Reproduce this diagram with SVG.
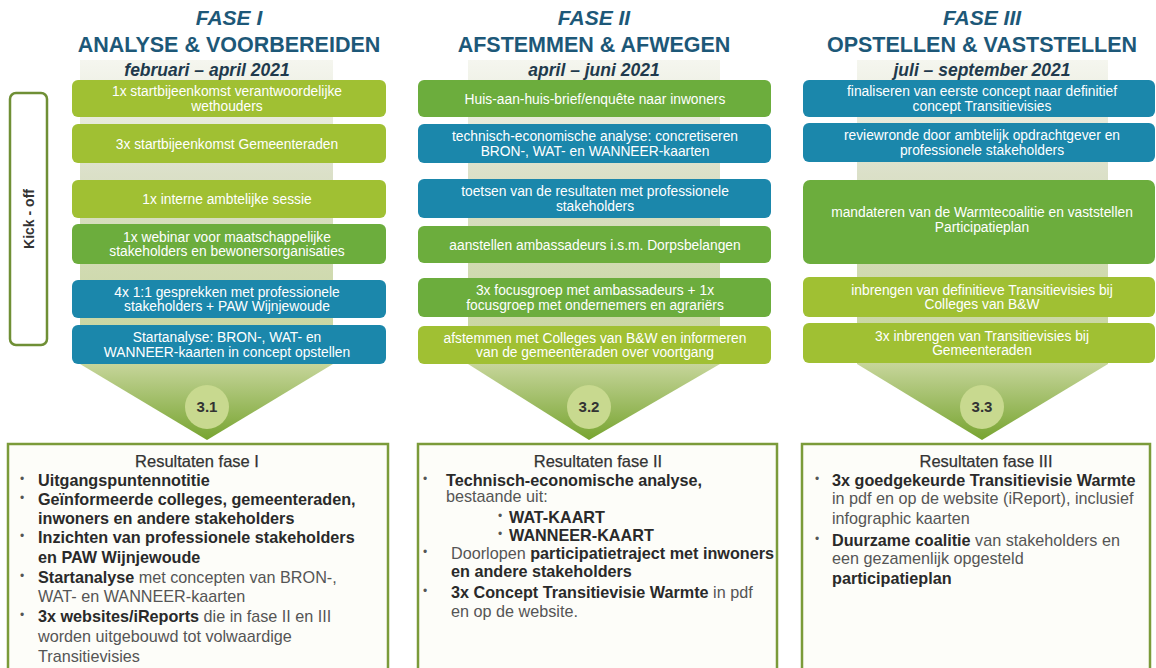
<svg xmlns="http://www.w3.org/2000/svg" width="1156" height="668" viewBox="0 0 1156 668">
<style>
.h1{font-family:"Liberation Sans",Arial,sans-serif;font-weight:bold;font-style:italic;font-size:21px;fill:#1d5878;text-anchor:middle}
.h2{font-family:"Liberation Sans",Arial,sans-serif;font-weight:bold;font-size:21.5px;fill:#1d5878;text-anchor:middle}
.dt{font-family:"Liberation Sans",Arial,sans-serif;font-weight:bold;font-style:italic;font-size:17.5px;fill:#1f3a4c;text-anchor:middle}
.bt{font-family:"Liberation Sans",Arial,sans-serif;font-size:13.8px;fill:#ffffff;text-anchor:middle}
.lime{fill:#a0c033}
.green{fill:#6cad3d}
.blue{fill:#1b87ab}
.circ{fill:#c8d98f}
.num{font-family:"Liberation Sans",Arial,sans-serif;font-weight:bold;font-size:15px;fill:#333;text-anchor:middle}
.res{fill:#fdfdf9;stroke:#7b9b3a;stroke-width:2.5}
.rt{font-family:"Liberation Sans",Arial,sans-serif;font-size:16.5px;fill:#333;text-anchor:middle;stroke:#333;stroke-width:0.25}
.r{font-family:"Liberation Sans",Arial,sans-serif;font-size:16.2px;fill:#555}
.bu{font-family:"Liberation Sans",Arial,sans-serif;font-size:12px;fill:#555}
.b{font-weight:bold;fill:#2a2a2a}
.ko{fill:#ffffff;stroke:#6f8f35;stroke-width:2.5}
.kt{font-family:"Liberation Sans",Arial,sans-serif;font-weight:bold;font-size:14px;fill:#333;text-anchor:middle}
</style>
<defs>
<linearGradient id="fun" gradientUnits="userSpaceOnUse" x1="0" y1="60" x2="0" y2="440">
<stop offset="0" stop-color="#f5f6ef"/>
<stop offset="0.3" stop-color="#dbe0c8"/>
<stop offset="0.8" stop-color="#c6d59a"/>
<stop offset="1" stop-color="#77a430"/>
</linearGradient>
</defs>
<rect width="1156" height="668" fill="#ffffff"/>

<g id="connectors">
<path id="funnel1" d="M80,60 H333 V364 L207,440 L80,364 Z" fill="url(#fun)"/>
<path id="funnel2" d="M468,60 H720 V364 L589,440 L468,364 Z" fill="url(#fun)"/>
<path id="funnel3" d="M857,60 H1108 V364 L982,440 L857,364 Z" fill="url(#fun)"/>
</g>

<g id="header1">
<text class="h1" x="229" y="25">FASE I</text>
<text class="h2" x="229" y="52">ANALYSE &amp; VOORBEREIDEN</text>
<text class="dt" x="207" y="76">februari – april 2021</text>
</g>
<g id="header2">
<text class="h1" x="594" y="25">FASE II</text>
<text class="h2" x="594" y="52">AFSTEMMEN &amp; AFWEGEN</text>
<text class="dt" x="594" y="76">april – juni 2021</text>
</g>
<g id="header3">
<text class="h1" x="982" y="25">FASE III</text>
<text class="h2" x="982" y="52">OPSTELLEN &amp; VASTSTELLEN</text>
<text class="dt" x="982" y="76">juli – september 2021</text>
</g>

<g id="kickoff">
<rect class="ko" x="10" y="93" width="37" height="252" rx="6"/>
<text class="kt" transform="translate(34,219) rotate(-90)">Kick - off</text>
</g>

<g id="phase1">
<g id="p1b1"><rect class="lime" x="72" y="80" width="314" height="37" rx="6"/><text class="bt" x="227" y="96">1x startbijeenkomst verantwoordelijke</text><text class="bt" x="227" y="111">wethouders</text></g>
<g id="p1b2"><rect class="lime" x="72" y="124" width="314" height="39" rx="6"/><text class="bt" x="227" y="148.5">3x startbijeenkomst Gemeenteraden</text></g>
<g id="p1b3"><rect class="lime" x="72" y="180" width="314" height="38" rx="6"/><text class="bt" x="227" y="204">1x interne ambtelijke sessie</text></g>
<g id="p1b4"><rect class="green" x="72" y="224" width="314" height="40" rx="6"/><text class="bt" x="227" y="242">1x webinar voor maatschappelijke</text><text class="bt" x="227" y="256">stakeholders en bewonersorganisaties</text></g>
<g id="p1b5"><rect class="blue" x="72" y="280" width="314" height="38" rx="6"/><text class="bt" x="227" y="297">4x 1:1 gesprekken met professionele</text><text class="bt" x="227" y="311">stakeholders + PAW Wijnjewoude</text></g>
<g id="p1b6"><rect class="blue" x="72" y="325" width="314" height="39" rx="6"/><text class="bt" x="227" y="342">Startanalyse: BRON-, WAT- en</text><text class="bt" x="227" y="357">WANNEER-kaarten in concept opstellen</text></g>
<g id="c31"><circle class="circ" cx="207" cy="407" r="22"/><text class="num" x="207" y="412">3.1</text></g>
</g>

<g id="phase2">
<g id="p2b1"><rect class="green" x="418" y="80" width="353" height="37" rx="6"/><text class="bt" x="595" y="103.5">Huis-aan-huis-brief/enquête naar inwoners</text></g>
<g id="p2b2"><rect class="blue" x="418" y="124" width="353" height="39" rx="6"/><text class="bt" x="595" y="141">technisch-economische analyse: concretiseren</text><text class="bt" x="595" y="156">BRON-, WAT- en WANNEER-kaarten</text></g>
<g id="p2b3"><rect class="blue" x="418" y="179" width="353" height="39" rx="6"/><text class="bt" x="595" y="196">toetsen van de resultaten met professionele</text><text class="bt" x="595" y="211">stakeholders</text></g>
<g id="p2b4"><rect class="green" x="418" y="226" width="353" height="37" rx="6"/><text class="bt" x="595" y="249.5">aanstellen ambassadeurs i.s.m. Dorpsbelangen</text></g>
<g id="p2b5"><rect class="green" x="418" y="278" width="353" height="39" rx="6"/><text class="bt" x="595" y="295">3x focusgroep met ambassadeurs + 1x</text><text class="bt" x="595" y="310">focusgroep met ondernemers en agrariërs</text></g>
<g id="p2b6"><rect class="lime" x="418" y="326" width="353" height="38" rx="6"/><text class="bt" x="595" y="343">afstemmen met Colleges van B&amp;W en informeren</text><text class="bt" x="595" y="357">van de gemeenteraden over voortgang</text></g>
<g id="c32"><circle class="circ" cx="589" cy="407" r="22"/><text class="num" x="589" y="412">3.2</text></g>
</g>

<g id="phase3">
<g id="p3b1"><rect class="blue" x="803" y="80" width="352" height="37" rx="6"/><text class="bt" x="982" y="96">finaliseren van eerste concept naar definitief</text><text class="bt" x="982" y="111">concept Transitievisies</text></g>
<g id="p3b2"><rect class="blue" x="803" y="123" width="352" height="39" rx="6"/><text class="bt" x="982" y="140">reviewronde door ambtelijk opdrachtgever en</text><text class="bt" x="982" y="155">professionele stakeholders</text></g>
<g id="p3b3"><rect class="green" x="803" y="180" width="352" height="84" rx="7"/><text class="bt" x="982" y="217">mandateren van de Warmtecoalitie en vaststellen</text><text class="bt" x="982" y="232">Participatieplan</text></g>
<g id="p3b4"><rect class="lime" x="803" y="277" width="352" height="40" rx="6"/><text class="bt" x="982" y="295">inbrengen van definitieve Transitievisies bij</text><text class="bt" x="982" y="309">Colleges van B&amp;W</text></g>
<g id="p3b5"><rect class="lime" x="803" y="323" width="352" height="40" rx="6"/><text class="bt" x="982" y="341">3x inbrengen van Transitievisies bij</text><text class="bt" x="982" y="355">Gemeenteraden</text></g>
<g id="c33"><circle class="circ" cx="982" cy="407" r="22"/><text class="num" x="982" y="412">3.3</text></g>
</g>

<g id="result1">
<rect class="res" x="8" y="444" width="380" height="240"/>
<text class="rt" x="197" y="467">Resultaten fase I</text>
<text class="bu" x="20" y="483">•</text><text class="r b" x="38" y="486">Uitgangspuntennotitie</text>
<text class="bu" x="20" y="502">•</text><text class="r b" x="38" y="505">Geïnformeerde colleges, gemeenteraden,</text>
<text class="r b" x="38" y="524">inwoners en andere stakeholders</text>
<text class="bu" x="20" y="540">•</text><text class="r b" x="38" y="543">Inzichten van professionele stakeholders</text>
<text class="r b" x="38" y="563">en PAW Wijnjewoude</text>
<text class="bu" x="20" y="580">•</text><text class="r" x="38" y="583"><tspan class="b">Startanalyse</tspan> met concepten van BRON-,</text>
<text class="r" x="38" y="602">WAT- en WANNEER-kaarten</text>
<text class="bu" x="20" y="619">•</text><text class="r" x="38" y="622"><tspan class="b">3x websites/iReports</tspan> die in fase II en III</text>
<text class="r" x="38" y="642">worden uitgebouwd tot volwaardige</text>
<text class="r" x="38" y="662">Transitievisies</text>
</g>

<g id="result2">
<rect class="res" x="418" y="444" width="359" height="240"/>
<text class="rt" x="598" y="467">Resultaten fase II</text>
<text class="bu" x="423" y="483">•</text><text class="r b" x="446" y="486">Technisch-economische analyse,</text>
<text class="r" x="446" y="502">bestaande uit:</text>
<text class="bu" x="498" y="520">•</text><text class="r b" x="509" y="523">WAT-KAART</text>
<text class="bu" x="498" y="538">•</text><text class="r b" x="509" y="541">WANNEER-KAART</text>
<text class="bu" x="423" y="556">•</text><text class="r" x="451" y="559">Doorlopen <tspan class="b">participatietraject met inwoners</tspan></text>
<text class="r b" x="451" y="577">en andere stakeholders</text>
<text class="bu" x="423" y="595">•</text><text class="r" x="451" y="598"><tspan class="b">3x Concept Transitievisie Warmte</tspan> in pdf</text>
<text class="r" x="451" y="617">en op de website.</text>
</g>

<g id="result3">
<rect class="res" x="802" y="444" width="348" height="240"/>
<text class="rt" x="986" y="467">Resultaten fase III</text>
<text class="bu" x="815" y="483">•</text><text class="r b" x="832" y="486">3x goedgekeurde Transitievisie Warmte</text>
<text class="r" x="832" y="504">in pdf en op de website (iReport), inclusief</text>
<text class="r" x="832" y="524">infographic kaarten</text>
<text class="bu" x="815" y="543">•</text><text class="r" x="832" y="546"><tspan class="b">Duurzame coalitie</tspan> van stakeholders en</text>
<text class="r" x="832" y="564">een gezamenlijk opgesteld</text>
<text class="r b" x="832" y="584">participatieplan</text>
</g>
</svg>
